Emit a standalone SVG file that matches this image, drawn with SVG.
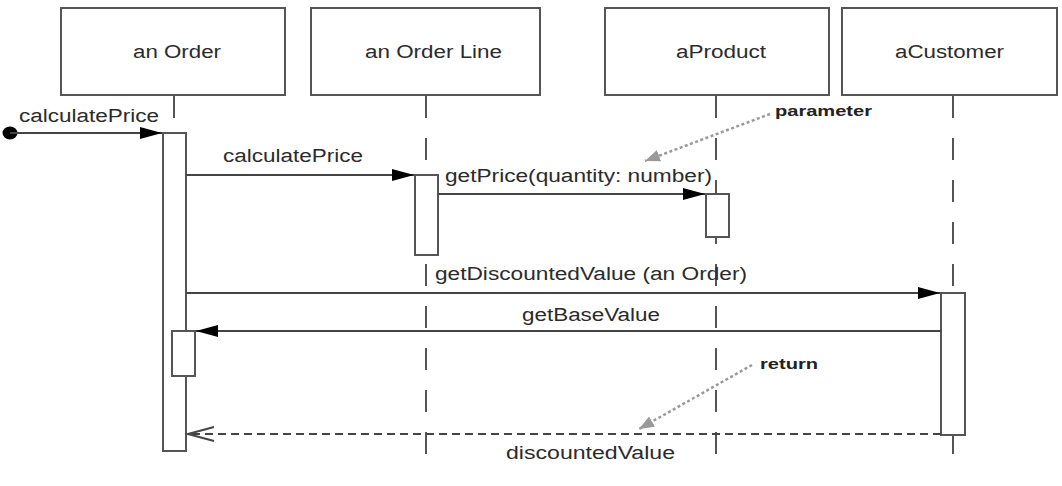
<svg xmlns="http://www.w3.org/2000/svg" width="1062" height="486" viewBox="0 0 1062 486">
<style>
.box{fill:#fff;stroke:#555;stroke-width:2}
.act{fill:#fff;stroke:#555;stroke-width:2}
.life{stroke:#555;stroke-width:2;stroke-dasharray:22 20;fill:none}
.msg{stroke:#444;stroke-width:2;fill:none}
.ret{stroke:#444;stroke-width:2;fill:none;stroke-dasharray:8 5}
.note{stroke:#999;stroke-width:2.5;fill:none;stroke-dasharray:3 2.5}
.t{font-family:"Liberation Sans",Arial,sans-serif;font-size:18px;fill:#2b2b2b}
.b{font-family:"Liberation Sans",Arial,sans-serif;font-size:15px;font-weight:bold;fill:#222}
</style>
<defs>
<marker id="fill" markerUnits="userSpaceOnUse" markerWidth="24" markerHeight="14" refX="22" refY="6" orient="auto"><path d="M0,0 L22,6 L0,12 z" fill="#000"/></marker>
<marker id="open" markerUnits="userSpaceOnUse" markerWidth="30" markerHeight="18" refX="27" refY="8" orient="auto"><path d="M1,1 L27,8 L1,15" fill="none" stroke="#444" stroke-width="2"/></marker>
<marker id="gray" markerUnits="userSpaceOnUse" markerWidth="18" markerHeight="14" refX="15" refY="6" orient="auto"><path d="M0,0 L15,6 L0,12 z" fill="#999"/></marker>
</defs>

<g id="lifelines">
<line class="life" x1="174" y1="96" x2="174" y2="130"/>
<line class="life" x1="426" y1="96" x2="426" y2="457"/>
<line class="life" x1="716" y1="96" x2="716" y2="457"/>
<line class="life" x1="953" y1="96" x2="953" y2="457"/>
</g>

<g id="node-order"><rect class="box" x="61" y="8" width="224" height="87"/><text class="t" x="133" y="58" textLength="88" lengthAdjust="spacingAndGlyphs">an Order</text></g>
<g id="node-orderline"><rect class="box" x="311" y="8" width="229" height="87"/><text class="t" x="365" y="58" textLength="137" lengthAdjust="spacingAndGlyphs">an Order Line</text></g>
<g id="node-product"><rect class="box" x="605" y="8" width="224" height="87"/><text class="t" x="676" y="58" textLength="90" lengthAdjust="spacingAndGlyphs">aProduct</text></g>
<g id="node-customer"><rect class="box" x="842" y="8" width="215" height="87"/><text class="t" x="895" y="58" textLength="109" lengthAdjust="spacingAndGlyphs">aCustomer</text></g>

<g id="activations">
<rect class="act" x="163" y="133" width="23" height="318"/>
<rect class="act" x="415" y="175" width="23" height="80"/>
<rect class="act" x="706" y="194" width="23" height="43"/>
<rect class="act" x="941" y="293" width="24" height="142"/>
<rect class="act" x="172" y="331" width="23" height="45"/>
</g>

<g id="connectors">
<ellipse cx="10" cy="133" rx="7.5" ry="6.5" fill="#000"/>
<line class="msg" x1="10" y1="133" x2="162" y2="133" marker-end="url(#fill)"/>
<line class="msg" x1="186" y1="175" x2="414" y2="175" marker-end="url(#fill)"/>
<line class="msg" x1="438" y1="194" x2="705" y2="194" marker-end="url(#fill)"/>
<line class="msg" x1="186" y1="293" x2="940" y2="293" marker-end="url(#fill)"/>
<line class="msg" x1="941" y1="331" x2="196" y2="331" marker-end="url(#fill)"/>
<line class="ret" x1="941" y1="434" x2="188" y2="434" marker-end="url(#open)"/>
<line class="note" x1="770" y1="114" x2="645" y2="161" marker-end="url(#gray)"/>
<line class="note" x1="752" y1="365" x2="639" y2="429" marker-end="url(#gray)"/>
</g>

<g id="labels">
<text class="t" x="19" y="122" textLength="140" lengthAdjust="spacingAndGlyphs">calculatePrice</text>
<text class="t" x="223" y="162" textLength="140" lengthAdjust="spacingAndGlyphs">calculatePrice</text>
<text class="t" x="445" y="182" textLength="267" lengthAdjust="spacingAndGlyphs">getPrice(quantity: number)</text>
<text class="t" x="435" y="280" textLength="312" lengthAdjust="spacingAndGlyphs">getDiscountedValue (an Order)</text>
<text class="t" x="522" y="321" textLength="138" lengthAdjust="spacingAndGlyphs">getBaseValue</text>
<text class="t" x="506" y="459" textLength="169" lengthAdjust="spacingAndGlyphs">discountedValue</text>
<text class="b" x="775" y="116" textLength="97" lengthAdjust="spacingAndGlyphs">parameter</text>
<text class="b" x="760" y="369" textLength="58" lengthAdjust="spacingAndGlyphs">return</text>
</g>
</svg>
